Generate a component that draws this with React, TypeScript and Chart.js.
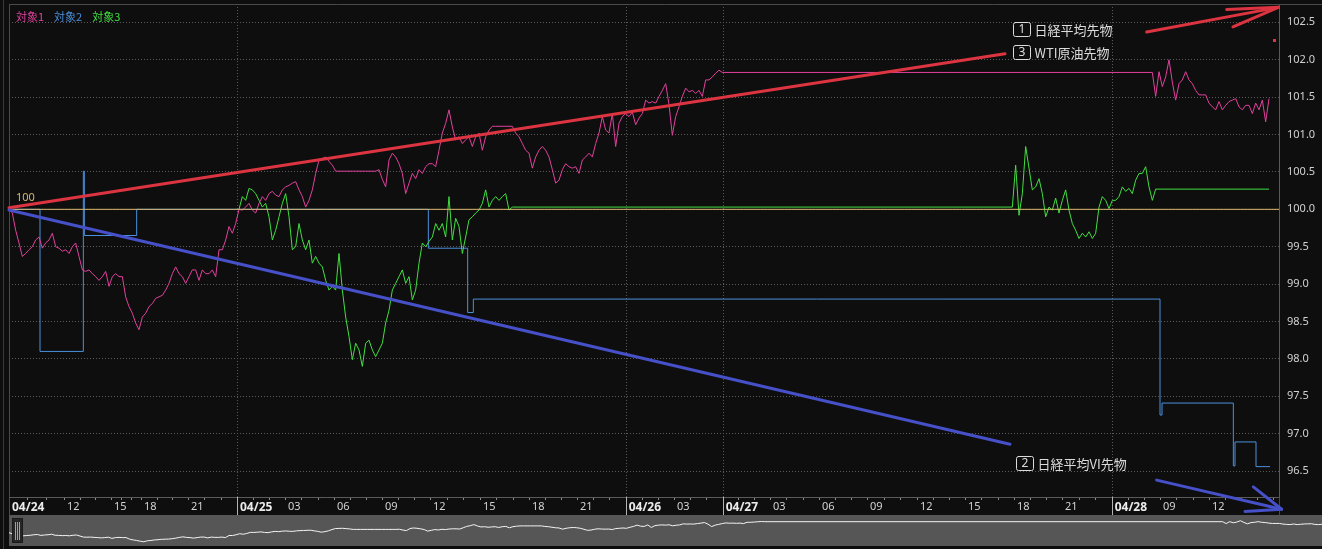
import React, { useEffect, useRef } from 'react';
import { Chart, registerables } from 'chart.js';

Chart.register(...registerables);

// ---------------- data ----------------
const X_MAX = 381; // bar index range of the visible window
const Y_MIN = 96.154;
const Y_MAX = 102.745;

const yTickValues = [96.5, 97.0, 97.5, 98.0, 98.5, 99.0, 99.5, 100.0, 100.5, 101.0, 101.5, 102.0, 102.5];

const xTickIdx = [0, 16.5, 30.6, 39.6, 53.7, 68.4, 82.8, 97.5, 111.9, 126.3, 141.3, 156, 170.4, 185, 199.5, 214.1, 228.3, 243, 257.4, 272.4, 286.8, 301.5, 315.9, 330.8, 345.3, 360];
const xTickLabels = ['04/24', '12', '15', '18', '21', '04/25', '03', '06', '09', '12', '15', '18', '21', '04/26', '03', '04/27', '03', '06', '09', '12', '15', '18', '21', '04/28', '09', '12'];

const seriesNames = ['対象1', '対象2', '対象3'];

// 対象1 (日経平均先物)
const pinkStartA = 0;
const pinkA = [
  100.00, 99.95, 99.72, 99.55, 99.37, 99.41, 99.46, 99.50, 99.59, 99.63,
  99.48, 99.55, 99.59, 99.68, 99.50, 99.48, 99.44, 99.46, 99.41, 99.50,
  99.55, 99.37, 99.19, 99.17, 99.19, 99.14, 99.10, 99.05, 99.10, 99.17,
  98.97, 99.10, 99.14, 99.10, 99.10, 98.83, 98.70, 98.61, 98.48, 98.39,
  98.56, 98.61, 98.70, 98.74, 98.81, 98.83, 98.85, 98.92, 99.01, 99.14,
  99.23, 99.14, 99.10, 99.01, 99.10, 99.19, 99.19, 99.05, 99.19, 99.14,
  99.14, 99.19, 99.10, 99.46, 99.46, 99.59, 99.77, 99.68, 99.81, 100.00,
  99.99, 100.03, 100.08, 99.99, 99.95, 100.08, 100.17, 100.12, 100.21, 100.24,
  100.19, 100.17, 100.26, 100.30, 100.32, 100.35, 100.37, 100.26, 100.17, 100.03,
  100.12, 100.26, 100.48, 100.66, 100.68, 100.70, 100.64, 100.59, 100.51, 100.51,
  100.51, 100.51, 100.51, 100.51, 100.51, 100.51, 100.51, 100.51, 100.51, 100.51,
  100.51, 100.53, 100.40, 100.30, 100.66, 100.75, 100.70, 100.61, 100.48, 100.21,
  100.35, 100.48, 100.41, 100.53, 100.48, 100.57, 100.61, 100.61, 100.57, 100.79,
  101.02, 101.15, 101.33, 101.10, 100.93, 100.97, 100.88, 100.93, 100.97, 100.84,
  100.97, 101.02, 100.79, 100.97, 101.06, 101.11, 101.11, 101.11, 101.11, 101.11,
  101.11, 101.11, 101.02, 100.97, 100.88, 100.79, 100.75, 100.55, 100.70, 100.79,
  100.84, 100.79, 100.70, 100.53, 100.35, 100.39, 100.53, 100.61, 100.57, 100.55,
  100.57, 100.48, 100.66, 100.70, 100.75, 100.70, 100.88, 101.02, 101.24, 101.06,
  101.02, 101.28, 100.84, 101.15, 101.24, 101.28, 101.24, 101.30, 101.13, 101.22,
  101.28, 101.46, 101.42, 101.44, 101.42, 101.51, 101.59, 101.68, 101.40, 100.99,
  101.24, 101.37, 101.51, 101.62, 101.57, 101.59, 101.55, 101.59, 101.51, 101.73,
  101.73, 101.77, 101.82, 101.86, 101.83,
];
const pinkStartB = 343;
const pinkB = [
  101.83, 101.51, 101.84, 101.64, 101.77, 102.00, 101.70, 101.46, 101.68, 101.73,
  101.84, 101.73, 101.68, 101.59, 101.53, 101.53, 101.53, 101.42, 101.37, 101.33,
  101.44, 101.33, 101.39, 101.44, 101.46, 101.48, 101.37, 101.33, 101.39, 101.39,
  101.28, 101.42, 101.33, 101.46, 101.17, 101.48,
];

// 対象3 (WTI原油先物)
const greenStartA = 69;
const greenA = [
  100.00, 100.17, 100.12, 100.28, 100.26, 100.21, 100.12, 100.03, 100.08, 99.90,
  99.59, 99.72, 99.90, 100.08, 100.21, 99.90, 99.46, 99.50, 99.81, 99.59,
  99.46, 99.59, 99.28, 99.37, 99.28, 99.23, 99.05, 98.92, 98.97, 98.92,
  99.41, 98.92, 98.56, 98.30, 97.99, 98.21, 98.12, 97.90, 98.21, 98.25,
  98.12, 98.03, 98.12, 98.21, 98.48, 98.65, 98.92, 99.01, 99.10, 99.19,
  99.01, 99.10, 98.79, 98.92, 99.28, 99.55, 99.50, 99.57, 99.63, 99.81,
  99.72, 99.81, 99.63, 100.17, 99.59, 99.88, 99.77, 99.41, 99.63, 99.86,
  99.90, 99.95, 99.99, 100.08, 100.26, 100.03, 100.12, 100.17, 100.12, 100.17,
  100.21, 99.99, 100.03,
];
const greenStartB = 301;
const greenB = [
  100.03, 100.59, 99.92, 100.21, 100.84, 100.55, 100.26, 100.30, 100.41, 100.21,
  99.90, 100.03, 99.99, 100.15, 99.95, 100.12, 100.26, 99.99, 99.81, 99.72,
  99.61, 99.68, 99.63, 99.70, 99.61, 99.68, 100.03, 100.17, 100.12, 100.01,
  100.12, 100.12, 100.17, 100.30, 100.24, 100.28, 100.21, 100.39, 100.48, 100.48,
  100.57, 100.30, 100.12, 100.27,
];
const greenEndIdx = 378;
const greenEndValue = 100.27;

// 対象2 (日経平均VI先物) – stepped
const blueIdx = [0, 9.3, 22.3, 22.6, 38.3, 125.8, 137.6, 139.3, 345.3, 345.9, 367.3, 367.8, 374.1, 378.3];
const blueVal = [100.0, 98.1, 100.51, 99.65, 100.0, 99.48, 98.62, 98.80, 97.25, 97.41, 96.57, 96.89, 96.56, 96.56];

// base line (100)
const baseIdx = [0, X_MAX];
const baseVal = [100, 100];

// drawn annotations
const redTrendIdx = [0, 298.8];
const redTrendVal = [100.02, 102.08];
const blueTrendIdx = [0, 300.3];
const blueTrendVal = [99.99, 96.86];
const redArrowIdx = [341.3, 380.8, 365.3, 367.2]; // tail, tip, barb, barb
const redArrowVal = [102.37, 102.70, 102.67, 102.44];
const blueArrowIdx = [344.3, 381.8, 373.3, 370.8];
const blueArrowVal = [96.38, 95.99, 96.29, 95.96];
const markerIdx = [379.5];
const markerVal = [102.27];

const noteNums = ['1', '3', '2'];
const noteTexts = ['日経平均先物', 'WTI原油先物', '日経平均VI先物'];
const noteIdx = [301.1, 301.1, 302.1];
const noteVal = [102.41, 102.10, 96.61];

// navigator window
const navMin = 1;
const navMax = 371;
const navYMin = 97.66;
const navYMax = 102.98;

// ---------------- styles ----------------
const BG = '#0e0e0e';
const PINK = '#e2409e';
const BLUE = '#4a90dc';
const GREEN = '#40e040';
const GOLD = '#d9b76e';
const RED_T = '#dc3440';
const BLUE_T = '#4650c8';
const GRID = '#5a5a5a';
const FRAME = '#4a4a4a';
const AXIS = '#5a5a5a';
const LABEL = '#d2d2d2';
const NOTE = '#dcdcdc';
const FONT = "'Noto Sans', 'Noto Sans CJK JP', sans-serif";
const CJK = "'Noto Sans CJK JP', 'Noto Sans', sans-serif";
const LEGEND_COLORS = [PINK, BLUE, GREEN];

const seg = (start: number, vals: number[]) => vals.map((v, k) => ({ x: start + k, y: v }));
const pinkPts = [...seg(pinkStartA, pinkA), ...seg(pinkStartB, pinkB)];
const greenPts = [...seg(greenStartA, greenA), ...seg(greenStartB, greenB), { x: greenEndIdx, y: greenEndValue }];
const bluePts = blueIdx.map((x, k) => ({ x, y: blueVal[k] }));
const basePts = baseIdx.map((x, k) => ({ x, y: baseVal[k] }));

const allXTicks: number[] = (() => {
  const out: number[] = [];
  for (let k = 0; k < xTickIdx.length; k++) {
    const a = xTickIdx[k];
    out.push(a);
    if (k + 1 < xTickIdx.length) {
      const b = xTickIdx[k + 1];
      out.push(a + (b - a) / 3, a + (2 * (b - a)) / 3);
    }
  }
  let t = xTickIdx[xTickIdx.length - 1] + 4.8;
  while (t < X_MAX) { out.push(t); t += 4.8; }
  return out;
})();

const labelIndex = (v: number) => xTickIdx.findIndex((t) => Math.abs(t - v) < 1e-6);
const labelAt = (v: number) => { const k = labelIndex(v); return k >= 0 ? xTickLabels[k] : ''; };
const isDay = (v: any) => typeof v === 'number' && labelAt(v).includes('/');

const overlayPlugin = {
  id: 'overlay',
  beforeDatasetsDraw(chart: any) {
    // dotted day-boundary lines across the plot
    const { ctx, chartArea: ca, scales } = chart;
    const xs = scales.x;
    ctx.save();
    ctx.strokeStyle = GRID;
    ctx.lineWidth = 1;
    ctx.setLineDash([1, 2]);
    ctx.beginPath();
    xTickIdx.forEach((v, k) => {
      if (k > 0 && xTickLabels[k].includes('/')) {
        const px = Math.round(xs.getPixelForValue(v)) + 0.5;
        ctx.moveTo(px, ca.top); ctx.lineTo(px, ca.bottom);
      }
    });
    ctx.stroke();
    ctx.restore();
  },
  afterDraw(chart: any) {
    const { ctx, chartArea: ca, scales } = chart;
    const xs = scales.x;
    const ys = scales.y;
    const P = (i: number, v: number) => [xs.getPixelForValue(i), ys.getPixelForValue(v)];
    ctx.save();
    ctx.setLineDash([]);
    // small hour ticks under the axis line
    ctx.strokeStyle = '#8c8c8c';
    ctx.lineWidth = 1;
    ctx.beginPath();
    allXTicks.forEach((v) => {
      const px = Math.round(xs.getPixelForValue(v)) + 0.5;
      ctx.moveTo(px, ca.bottom); ctx.lineTo(px, ca.bottom + 3);
    });
    ctx.stroke();
    // frame
    ctx.strokeStyle = FRAME;
    ctx.beginPath();
    ctx.moveTo(ca.left, ca.top + 0.5); ctx.lineTo(chart.width, ca.top + 0.5);
    ctx.moveTo(ca.left + 0.5, ca.top); ctx.lineTo(ca.left + 0.5, chart.height);
    ctx.moveTo(ca.right + 0.5, ca.bottom); ctx.lineTo(ca.right + 0.5, chart.height);
    ctx.stroke();
    ctx.strokeStyle = AXIS;
    ctx.beginPath();
    ctx.moveTo(ca.left, ca.bottom + 0.5); ctx.lineTo(ca.right, ca.bottom + 0.5);
    ctx.stroke();
    // day separators in the axis band
    ctx.strokeStyle = '#b4b4b4';
    ctx.beginPath();
    xTickIdx.forEach((v, k) => {
      if (k > 0 && xTickLabels[k].includes('/')) {
        const px = Math.round(xs.getPixelForValue(v)) + 0.5;
        ctx.moveTo(px, ca.bottom); ctx.lineTo(px, chart.height);
      }
    });
    ctx.stroke();

    // legend
    ctx.font = `11px ${CJK}`;
    ctx.textAlign = 'left';
    ctx.textBaseline = 'middle';
    let lx = ca.left + 7;
    seriesNames.forEach((name, k) => {
      ctx.fillStyle = LEGEND_COLORS[k];
      ctx.fillText(name, lx, ca.top + 13);
      lx += ctx.measureText(name).width + 10;
    });
    // 100 label
    ctx.fillStyle = GOLD;
    ctx.font = `11px ${FONT}`;
    ctx.fillText('100', ca.left + 7, ys.getPixelForValue(100) - 11);

    const poly = (idx: number[], val: number[], order: number[], color: string, w: number) => {
      ctx.beginPath();
      order.forEach((o, k) => {
        const [px, py] = P(idx[o], val[o]);
        if (k === 0) ctx.moveTo(px, py); else ctx.lineTo(px, py);
      });
      ctx.strokeStyle = color;
      ctx.lineWidth = w;
      ctx.lineCap = 'round';
      ctx.lineJoin = 'round';
      ctx.stroke();
    };
    poly(redTrendIdx, redTrendVal, [0, 1], RED_T, 3);
    poly(blueTrendIdx, blueTrendVal, [0, 1], BLUE_T, 3);
    poly(redArrowIdx, redArrowVal, [0, 1], RED_T, 3);
    poly(redArrowIdx, redArrowVal, [2, 1, 3], RED_T, 3);
    poly(blueArrowIdx, blueArrowVal, [0, 1], BLUE_T, 3);
    poly(blueArrowIdx, blueArrowVal, [2, 1, 3], BLUE_T, 3);
    ctx.fillStyle = RED_T;
    markerIdx.forEach((m, k) => {
      const [px, py] = P(m, markerVal[k]);
      ctx.fillRect(Math.round(px) - 1, Math.round(py) - 1, 3, 3);
    });

    // numbered notes
    noteNums.forEach((n, k) => {
      const [bx0, by0] = P(noteIdx[k], noteVal[k]);
      const w = 17, h = 14;
      const bx = Math.round(bx0) + 0.5;
      const by = Math.round(by0 - h / 2) + 0.5;
      ctx.strokeStyle = NOTE;
      ctx.lineWidth = 1;
      ctx.beginPath();
      if (ctx.roundRect) ctx.roundRect(bx, by, w, h, 2); else ctx.rect(bx, by, w, h);
      ctx.stroke();
      ctx.fillStyle = NOTE;
      ctx.font = `12px ${FONT}`;
      ctx.textAlign = 'center';
      ctx.textBaseline = 'middle';
      ctx.fillText(n, bx + w / 2, by + h / 2 + 0.5);
      ctx.textAlign = 'left';
      ctx.font = `13px ${CJK}`;
      ctx.fillText(noteTexts[k], bx + w + 4, by + h / 2 + 0.5);
    });
    ctx.restore();
  },
};

const navPlugin = {
  id: 'navbg',
  beforeDraw(chart: any) {
    const { ctx, width, height } = chart;
    ctx.save();
    ctx.fillStyle = '#565656';
    ctx.fillRect(0, 0, width, height);
    ctx.restore();
  },
  afterDraw(chart: any) {
    const { ctx } = chart;
    ctx.save();
    ctx.fillStyle = '#262626';
    ctx.fillRect(3, 3, 11, 25);
    ctx.strokeStyle = '#1a1a1a';
    ctx.strokeRect(3.5, 3.5, 10, 24);
    ctx.strokeStyle = '#a0a0a0';
    ctx.beginPath();
    [6.5, 8.5, 10.5].forEach((gx) => { ctx.moveTo(gx, 7); ctx.lineTo(gx, 25); });
    ctx.stroke();
    ctx.restore();
  },
};

export default function App() {
  const mainRef = useRef<HTMLCanvasElement>(null);
  const navRef = useRef<HTMLCanvasElement>(null);

  useEffect(() => {
    document.body.style.margin = '0';
    document.body.style.background = BG;
    const main = new Chart(mainRef.current as HTMLCanvasElement, {
      type: 'line',
      data: {
        datasets: [
          { label: '100', data: basePts, borderColor: GOLD, borderWidth: 1, pointRadius: 0, order: 0 },
          { label: seriesNames[0], data: pinkPts, borderColor: PINK, borderWidth: 1, pointRadius: 0, order: 1 },
          { label: seriesNames[2], data: greenPts, borderColor: GREEN, borderWidth: 1, pointRadius: 0, order: 2 },
          { label: seriesNames[1], data: bluePts, borderColor: BLUE, borderWidth: 1, pointRadius: 0, stepped: true, order: 3 },
        ],
      },
      options: {
        animation: false,
        responsive: false,
        events: [],
        layout: { padding: { left: 9, top: 4, right: 0, bottom: 0 }, autoPadding: false },
        plugins: { legend: { display: false }, tooltip: { enabled: false } },
        scales: {
          x: {
            type: 'linear',
            position: 'bottom',
            min: 0,
            max: X_MAX,
            afterBuildTicks: (s: any) => { s.ticks = xTickIdx.map((v) => ({ value: v })); },
            afterFit: (s: any) => { s.height = 18; s.paddingLeft = 0; s.paddingRight = 0; },
            ticks: {
              autoSkip: false,
              maxRotation: 0,
              minRotation: 0,
              align: 'start',
              labelOffset: 3,
              padding: 3,
              callback: (v: any) => labelAt(Number(v)),
              color: (c: any) => (isDay(c.tick?.value) ? '#ececec' : LABEL),
              font: (c: any) => (isDay(c.tick?.value)
                ? { family: FONT, size: 12, weight: 'bold' }
                : { family: FONT, size: 11, weight: 'normal' }),
            },
            grid: { display: false, drawOnChartArea: false, drawTicks: false },
            border: { display: false },
          },
          y: {
            type: 'linear',
            position: 'right',
            min: Y_MIN,
            max: Y_MAX,
            afterBuildTicks: (s: any) => { s.ticks = yTickValues.map((v) => ({ value: v })); },
            afterFit: (s: any) => { s.width = 43; s.paddingTop = 0; s.paddingBottom = 0; },
            ticks: {
              padding: 8,
              color: LABEL,
              font: { family: FONT, size: 11 },
              callback: (v: any) => Number(v).toFixed(1),
            },
            grid: { color: GRID, drawTicks: false, lineWidth: 1 },
            border: { color: AXIS, dash: [1, 2] },
          },
        },
      } as any,
      plugins: [overlayPlugin],
    });

    const nav = new Chart(navRef.current as HTMLCanvasElement, {
      type: 'line',
      data: { datasets: [{ data: pinkPts, borderColor: '#f4f4f4', borderWidth: 1, pointRadius: 0 }] },
      options: {
        animation: false,
        responsive: false,
        events: [],
        layout: { padding: 0, autoPadding: false },
        plugins: { legend: { display: false }, tooltip: { enabled: false } },
        scales: {
          x: { type: 'linear', display: false, min: navMin, max: navMax },
          y: { type: 'linear', display: false, min: navYMin, max: navYMax },
        },
      } as any,
      plugins: [navPlugin],
    });

    return () => { main.destroy(); nav.destroy(); };
  }, []);

  return (
    <div style={{ position: 'fixed', left: 0, top: 0, width: 1322, height: 549, background: BG, overflow: 'hidden' }}>
      <div style={{ position: 'absolute', left: 3, top: 0, width: 1, height: 549, background: '#3a3a3a' }} />
      <canvas ref={mainRef} width={1322} height={515} style={{ position: 'absolute', left: 0, top: 0, width: 1322, height: 515 }} />
      <canvas ref={navRef} width={1313} height={31} style={{ position: 'absolute', left: 9, top: 515, width: 1313, height: 31 }} />
    </div>
  );
}
